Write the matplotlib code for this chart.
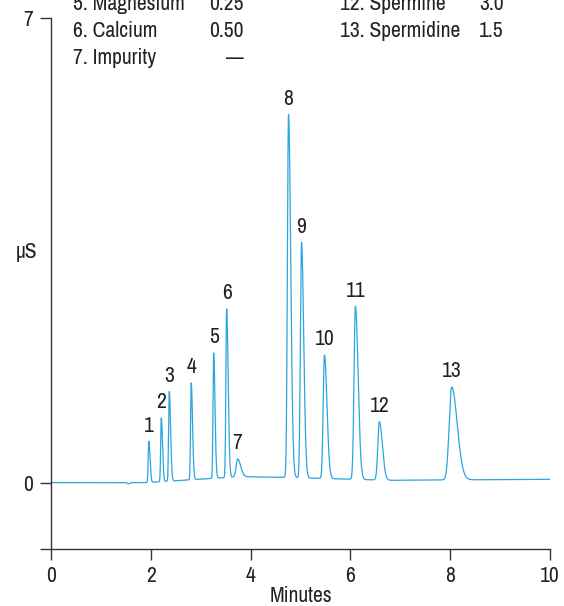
import numpy as np
import matplotlib
matplotlib.use("Agg")
import matplotlib.pyplot as plt
from matplotlib import font_manager

# Prefer a narrow sans face if one is around, else Arial-metric Liberation Sans
names = sorted({f.name for f in font_manager.fontManager.ttflist})
narrow = [n for n in names if ('Narrow' in n or 'Condensed' in n) and 'Mono' not in n]
if narrow:
    FONT, FS = narrow[0], 15.5
else:
    FONT, FS = 'Liberation Sans', 12.5
plt.rcParams['font.family'] = [FONT, 'DejaVu Sans']

# Peak table: retention time (min), height above baseline (uS), width (min), tailing
peak_ids = [str(i) for i in range(1, 14)]
peak_times = [1.96, 2.21, 2.37, 2.81, 3.26, 3.52, 3.74, 4.76, 5.02, 5.48, 6.10, 6.58, 8.03]
peak_heights = [0.62, 0.96, 1.35, 1.46, 1.89, 2.54, 0.27, 5.47, 3.55, 1.86, 2.61, 0.88, 1.40]
peak_sigmas = [0.012, 0.012, 0.013, 0.013, 0.013, 0.015, 0.03, 0.022, 0.022, 0.025, 0.027, 0.03, 0.05]
peak_tails = [2.0, 2.0, 2.0, 2.0, 2.0, 2.0, 2.0, 2.0, 2.0, 2.0, 2.0, 2.0, 2.2]

# Baseline drift knots
base_t = [0.0, 1.50, 1.55, 1.60, 1.90, 3.80, 4.60, 6.80, 10.0]
base_y = [0.0, 0.0, -0.02, 0.0, 0.0, 0.09, 0.08, 0.035, 0.05]

# Analyte list (name, concentration)
left_names = ["5. Magnesium", "6. Calcium", "7. Impurity"]
left_conc = ["0.25", "0.50", "\u2014"]
right_names = ["12. Spermine", "13. Spermidine"]
right_conc = ["3.0", "1.5"]

t = np.linspace(0, 10, 4001)
signal = np.interp(t, base_t, base_y)
for t0, h, s, k in zip(peak_times, peak_heights, peak_sigmas, peak_tails):
    sig = np.where(t < t0, s, s * k)
    signal = signal + h * np.exp(-0.5 * ((t - t0) / sig) ** 2)

W, H = 564, 606
fig = plt.figure(figsize=(W / 100, H / 100), dpi=100)
ax = fig.add_axes([51 / W, 1 - 549 / H, 499 / W, 531 / H])

color = '#2BA6DE'
ax.plot(t, signal, color=color, lw=0.9)

ax.set_xlim(0, 10)
ax.set_ylim(-1, 7)
ax.set_xticks([0, 2, 4, 6, 8, 10])
ax.set_yticks([-1, 0, 7])
ax.set_yticklabels(["", "0", "7"])
for side in ['top', 'right']:
    ax.spines[side].set_visible(False)
for side in ['left', 'bottom']:
    ax.spines[side].set_color('#333333')
    ax.spines[side].set_linewidth(1.0)
ax.tick_params(direction='out', length=8, width=1.0, color='#333333',
               labelsize=FS, labelcolor='#222222')
ax.tick_params(axis='x', pad=4)
ax.tick_params(axis='y', pad=5)
ax.set_xlabel("Minutes", fontsize=FS, color='#222222', labelpad=0)
ax.set_ylabel("\u00b5S", fontsize=FS, color='#222222', rotation=0, va='center')
ax.yaxis.set_label_coords(-0.05, 0.56)

# Peak numbers
for name, t0 in zip(peak_ids, peak_times):
    y0 = np.interp(t0, t, signal)
    ax.annotate(name, (t0, y0), xytext=(0, 4), textcoords='offset points',
                ha='center', va='bottom', fontsize=FS, color='#222222')

# Analyte list at the top
def fy(px):
    return 1 - px / H

for i, (n, c) in enumerate(zip(left_names, left_conc)):
    yb = fy(10 + 27 * i)
    fig.text(73 / W, yb, n, fontsize=FS, va='baseline', ha='left', color='#222222')
    fig.text(244 / W, yb, c, fontsize=FS, va='baseline', ha='right', color='#222222')
for i, (n, c) in enumerate(zip(right_names, right_conc)):
    yb = fy(10 + 27 * i)
    fig.text(340 / W, yb, n, fontsize=FS, va='baseline', ha='left', color='#222222')
    fig.text(504 / W, yb, c, fontsize=FS, va='baseline', ha='right', color='#222222')

fig.savefig("out.png", dpi=100)
